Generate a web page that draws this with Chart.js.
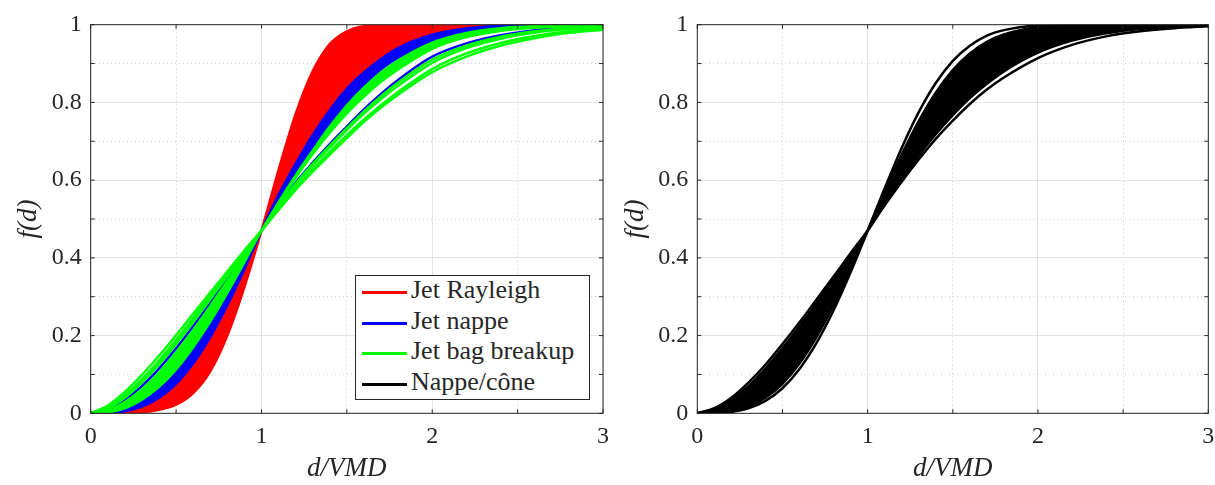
<!DOCTYPE html>
<html>
<head>
<meta charset="utf-8">
<script src="https://cdn.jsdelivr.net/npm/chart.js@4.4.0/dist/chart.umd.min.js"></script>
<style>
  html, body { margin: 0; padding: 0; background: #fff; }
  #wrap { position: relative; width: 1215px; height: 485px; overflow: hidden; }
  canvas { position: absolute; top: 0; }
  #cvLeft { left: 0; }
  #cvRight { left: 607px; }
  .legend { position: absolute; left: 355px; top: 275px; width: 235px; height: 125px; box-sizing: border-box;
            border: 1px solid #262626; background: #fff; font: 26px "Liberation Serif", serif; color: #262626; }
  .legend .row { position: absolute; left: 0; height: 30px; width: 100%; }
  .legend .sw { position: absolute; left: 6px; top: 14px; width: 45px; height: 3px; }
  .legend .tx { position: absolute; left: 55px; top: -2px; line-height: 30px; white-space: nowrap; }
</style>
</head>
<body>
<div id="wrap">
  <canvas id="cvLeft" width="610" height="485"></canvas>
  <canvas id="cvRight" width="608" height="485"></canvas>
  <div class="legend" id="legend"></div>
</div>
<script>
/* cumulative size distributions f(d) vs d/VMD */

const X = [0, 0.1, 0.2, 0.3, 0.4, 0.5, 0.6, 0.7, 0.8, 0.9, 1.0, 1.1, 1.2, 1.3, 1.4, 1.5, 1.6, 1.7, 1.8, 2.0, 2.2, 2.4, 2.6, 2.8, 3.0];

// left panel — red band (Jet Rayleigh)
const redSteep   = [0, 0, 0.0004, 0.0025, 0.009, 0.022, 0.052, 0.108, 0.2, 0.325, 0.47, 0.626, 0.77, 0.88, 0.95, 0.983, 0.996, 0.999, 1, 1, 1, 1, 1, 1, 1];
const redShallow = [0, 0.0005, 0.004, 0.015, 0.036, 0.071, 0.122, 0.19, 0.272, 0.368, 0.47, 0.565, 0.645, 0.72, 0.785, 0.84, 0.88, 0.915, 0.943, 0.977, 0.992, 0.997, 0.999, 1, 1];
// blue (Jet nappe)
const blueSteep   = [0, 0.0006, 0.005, 0.017, 0.04, 0.076, 0.128, 0.196, 0.278, 0.371, 0.47, 0.562, 0.642, 0.716, 0.78, 0.835, 0.877, 0.912, 0.94, 0.974, 0.99, 0.997, 0.999, 1, 1];
const blueShallow = [0, 0.002, 0.012, 0.033, 0.065, 0.11, 0.166, 0.233, 0.308, 0.388, 0.47, 0.545, 0.615, 0.68, 0.745, 0.8, 0.845, 0.885, 0.915, 0.957, 0.981, 0.992, 0.997, 0.999, 1];
const blueLone    = [0, 0.01, 0.035, 0.07, 0.115, 0.167, 0.224, 0.284, 0.346, 0.409, 0.47, 0.535, 0.594, 0.645, 0.693, 0.738, 0.782, 0.822, 0.858, 0.918, 0.952, 0.973, 0.986, 0.993, 0.997];
// green (Jet bag breakup)
const greenSteep   = [0, 0.0025, 0.013, 0.035, 0.068, 0.113, 0.17, 0.236, 0.31, 0.389, 0.47, 0.543, 0.612, 0.676, 0.738, 0.792, 0.838, 0.877, 0.908, 0.954, 0.979, 0.991, 0.996, 0.998, 1];
const greenBandLow = [0, 0.008, 0.029, 0.062, 0.105, 0.157, 0.214, 0.276, 0.34, 0.405, 0.47, 0.54, 0.606, 0.667, 0.722, 0.772, 0.815, 0.853, 0.885, 0.938, 0.968, 0.984, 0.992, 0.996, 0.998];
const greenMidA    = [0, 0.013, 0.04, 0.079, 0.125, 0.178, 0.234, 0.293, 0.352, 0.412, 0.47, 0.533, 0.591, 0.642, 0.689, 0.734, 0.777, 0.816, 0.851, 0.91, 0.946, 0.969, 0.983, 0.991, 0.996];
const greenMidB    = [0, 0.014, 0.044, 0.083, 0.131, 0.183, 0.239, 0.297, 0.356, 0.414, 0.47, 0.531, 0.588, 0.638, 0.684, 0.729, 0.771, 0.809, 0.843, 0.902, 0.94, 0.964, 0.98, 0.989, 0.994];
const greenOuterA  = [0, 0.016, 0.047, 0.088, 0.136, 0.189, 0.245, 0.302, 0.359, 0.415, 0.47, 0.526, 0.579, 0.628, 0.673, 0.716, 0.756, 0.793, 0.827, 0.886, 0.926, 0.953, 0.971, 0.983, 0.99];
const greenOuterB  = [0, 0.02, 0.055, 0.099, 0.148, 0.201, 0.256, 0.311, 0.365, 0.419, 0.47, 0.523, 0.575, 0.622, 0.666, 0.708, 0.75, 0.787, 0.82, 0.878, 0.918, 0.946, 0.965, 0.979, 0.987];

// right panel — black (Nappe/cône)
const blackSteep   = [0, 0.0004, 0.0034, 0.0126, 0.0318, 0.0645, 0.114, 0.181, 0.265, 0.363, 0.47, 0.579, 0.683, 0.775, 0.85, 0.907, 0.946, 0.972, 0.986, 0.998, 1, 1, 1, 1, 1];
const blackBandTop = [0, 0.0006, 0.005, 0.017, 0.04, 0.076, 0.128, 0.196, 0.278, 0.371, 0.47, 0.571, 0.666, 0.752, 0.825, 0.883, 0.926, 0.956, 0.975, 0.994, 0.999, 1, 1, 1, 1];
const blackBandLow = [0, 0.01, 0.035, 0.07, 0.115, 0.167, 0.224, 0.284, 0.346, 0.409, 0.47, 0.538, 0.603, 0.663, 0.718, 0.767, 0.811, 0.848, 0.88, 0.928, 0.959, 0.978, 0.989, 0.995, 0.998];
const blackShallow = [0, 0.013, 0.04, 0.079, 0.125, 0.178, 0.234, 0.293, 0.352, 0.412, 0.47, 0.535, 0.596, 0.653, 0.706, 0.753, 0.796, 0.833, 0.864, 0.914, 0.948, 0.97, 0.983, 0.991, 0.996];

const LEGEND = [["Jet Rayleigh", "#ff0000"], ["Jet nappe", "#0000ff"], ["Jet bag breakup", "#00ff00"], ["Nappe/cône", "#000000"]];

const SERIF = '"Liberation Serif", "Times New Roman", serif';
const INK = "#262626";
const RED = "#ff0000", BLUE = "#0000ff", GREEN = "#00ff00", BLACK = "#000000";

function curve(values, color, extra) {
  return Object.assign({
    data: X.map((x, i) => ({ x, y: values[i] })),
    borderColor: color, backgroundColor: color, borderWidth: 2.5,
    pointRadius: 0, cubicInterpolationMode: "monotone", fill: false,
  }, extra);
}

const near = (v, step) => Math.abs(v / step - Math.round(v / step)) < 1e-6;

// box + inward ticks on all four sides, MATLAB style
const frame = {
  id: "frame",
  afterDatasetsDraw(chart) {
    const { ctx, chartArea: a, scales: { x, y } } = chart;
    const L = 4;
    ctx.save();
    ctx.strokeStyle = INK; ctx.lineWidth = 1;
    ctx.beginPath();
    x.ticks.forEach((t) => {
      const px = x.getPixelForValue(t.value);
      ctx.moveTo(px, a.bottom); ctx.lineTo(px, a.bottom - L);
      ctx.moveTo(px, a.top); ctx.lineTo(px, a.top + L);
    });
    y.ticks.forEach((t) => {
      const py = y.getPixelForValue(t.value);
      ctx.moveTo(a.left, py); ctx.lineTo(a.left + L, py);
      ctx.moveTo(a.right, py); ctx.lineTo(a.right - L, py);
    });
    ctx.stroke();
    ctx.strokeRect(a.left, a.top, a.right - a.left, a.bottom - a.top);
    ctx.restore();
  },
};

function makeChart(id, datasets, axisWidth, padRight) {
  return new Chart(document.getElementById(id), {
    type: "line",
    data: { datasets },
    options: {
      responsive: false, animation: false, devicePixelRatio: 1,
      layout: { padding: { top: 24.7, right: padRight, bottom: 0, left: 0 } },
      plugins: { legend: { display: false }, tooltip: { enabled: false } },
      scales: {
        x: {
          type: "linear", min: 0, max: 3,
          ticks: { stepSize: 0.5, autoSkip: false, maxRotation: 0, padding: 9, color: INK,
                   font: { family: SERIF, size: 24 },
                   callback: (v) => (near(v, 1) ? String(Math.round(v)) : "") },
          grid: { drawTicks: false, lineWidth: 1,
                  color: (c) => (near(c.tick.value, 1) ? "#e4e4e4" : "#cdcdcd") },
          border: { display: false, dash: (c) => (near(c.tick.value, 1) ? [] : [1, 3]) },
          title: { display: true, text: "d/VMD", color: INK, padding: { top: 0, bottom: 0 },
                   font: { family: SERIF, size: 27, style: "italic" } },
          // fixed axis band; drop the label overhang so the plot reaches the right edge
          afterFit: (s) => { s.height = 71.7; s.paddingRight = 0; s.paddingLeft = 0; },
        },
        y: {
          min: 0, max: 1,
          ticks: { stepSize: 0.1, autoSkip: false, padding: 9, color: INK,
                   font: { family: SERIF, size: 24 },
                   callback: (v) => { const r = Math.round(v * 10); return r % 2 ? "" : String(r / 10); } },
          grid: { drawTicks: false, lineWidth: 1,
                  color: (c) => (near(c.tick.value, 0.2) ? "#e4e4e4" : "#cdcdcd") },
          border: { display: false, dash: (c) => (near(c.tick.value, 0.2) ? [] : [1, 3]) },
          title: { display: true, text: "f(d)", color: INK, padding: { top: 13, bottom: 0 },
                   font: { family: SERIF, size: 27, style: "italic" } },
          afterFit: (s) => { s.width = axisWidth; },
        },
      },
    },
    plugins: [frame],
  });
}

// later groups sit on top: green over blue over red
makeChart("cvLeft", [
  curve(redSteep, RED, { order: 3, fill: "+1" }),
  curve(redShallow, RED, { order: 3 }),
  curve(blueSteep, BLUE, { order: 2, fill: "+1" }),
  curve(blueShallow, BLUE, { order: 2 }),
  curve(blueLone, BLUE, { order: 2 }),
  curve(greenSteep, GREEN, { order: 1, fill: "+1" }),
  curve(greenBandLow, GREEN, { order: 1 }),
  curve(greenMidA, GREEN, { order: 1 }),
  curve(greenMidB, GREEN, { order: 1 }),
  curve(greenOuterA, GREEN, { order: 1 }),
  curve(greenOuterB, GREEN, { order: 1 }),
], 90.7, 7);

makeChart("cvRight", [
  curve(blackSteep, BLACK),
  curve(blackBandTop, BLACK, { fill: "+1" }),
  curve(blackBandLow, BLACK),
  curve(blackShallow, BLACK),
], 90.3, 6.7);

// legend (left panel)
const leg = document.getElementById("legend");
LEGEND.forEach(([label, color], i) => {
  const row = document.createElement("div");
  row.className = "row";
  row.style.top = (1 + i * 30.7) + "px";
  row.innerHTML = `<span class="sw" style="background:${color}"></span><span class="tx"></span>`;
  row.querySelector(".tx").textContent = label;
  leg.appendChild(row);
});
</script>
</body>
</html>
